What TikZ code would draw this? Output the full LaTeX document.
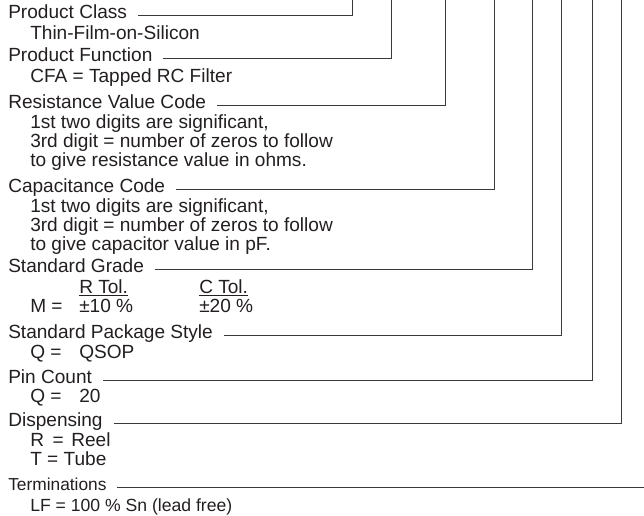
\documentclass[tikz,border=0pt]{standalone}
\usepackage{fontspec}
\setmainfont{Liberation Sans}
\definecolor{inkText}{HTML}{231F20}
\definecolor{inkLine}{HTML}{3A3A3A}

\begin{document}
\begin{tikzpicture}
[x=0.75pt,y=-0.75pt,
  headDecorate/.style={anchor=mid west,inner sep=0pt,text=inkText,font=\fontsize{14.3}{14.3}\selectfont},
  bodyDecorate/.style={anchor=base west,inner sep=0pt,align=left,text=inkText,font=\fontsize{14.3}{14.3}\selectfont},
  lineDecorate/.style={-,draw=inkLine,line width=0.6pt}]
\useasboundingbox (0,0) rectangle (644,516);
%% headings and the top ends of their leads
\foreach \nodename/\y/\x/\txt in {
  cls/15/352/Product Class,
  fun/58/391/Product Function,
  res/105/445/Resistance Value Code,
  cap/189/494/Capacitance Code,
  grd/269/532/Standard Grade,
  pkg/335/561/Standard Package Style,
  pin/380/592/Pin Count,
  dsp/423/621/Dispensing}
{
  \node (\nodename) at (8,\y) [headDecorate] {\txt};
  \coordinate (\nodename-top) at (\x,0);
}
\node (trm) at (8,487) [headDecorate,font=\fontsize{13}{14.3}\selectfont] {Terminations};
\coordinate (trm-end) at (644,487);
%% descriptions (base = last line)
\node (cls-txt) at (30,39.5) [bodyDecorate] {Thin-Film-on-Silicon};
\node (fun-txt) at (30,82.5) [bodyDecorate] {CFA = Tapped RC Filter};
\node (res-txt) at (30,166.5) [bodyDecorate] {1st two digits are significant,\\
  3rd digit = number of zeros to follow\\to give resistance value in ohms.};
\node (cap-txt) at (30,250.5) [bodyDecorate] {1st two digits are significant,\\
  3rd digit = number of zeros to follow\\to give capacitor value in pF.};
\node (grd-r) at (79,293.5) [bodyDecorate] {\underline{R Tol.}};
\node (grd-c) at (199,293.5) [bodyDecorate] {\underline{C Tol.}};
\node (grd-m) at (30,313) [bodyDecorate] {M =};
\node (grd-rv) at (79,313) [bodyDecorate] {±10 \%};
\node (grd-cv) at (199,313) [bodyDecorate] {±20 \%};
\node (pkg-q) at (30,358.5) [bodyDecorate] {Q =};
\node (pkg-v) at (79,358.5) [bodyDecorate] {QSOP};
\node (pin-q) at (30,403) [bodyDecorate] {Q =};
\node (pin-v) at (79,403) [bodyDecorate] {20};
\node (dsp-txt) at (30,465.5) [bodyDecorate] {R\hspace{0.45em}=\hspace{0.4em}Reel\\T = Tube};
\node (trm-txt) at (30,511.5) [bodyDecorate,font=\fontsize{13.2}{14.3}\selectfont] {LF = 100 \% Sn (lead free)};
%% leads
\foreach \nodename in {cls,fun,res,cap,grd,pkg,pin,dsp}
  \draw[lineDecorate] ([xshift=8pt]\nodename.mid east) -| (\nodename-top);
\draw[lineDecorate] ([xshift=8pt]trm.mid east) -- (trm-end);
\end{tikzpicture}
\end{document}
